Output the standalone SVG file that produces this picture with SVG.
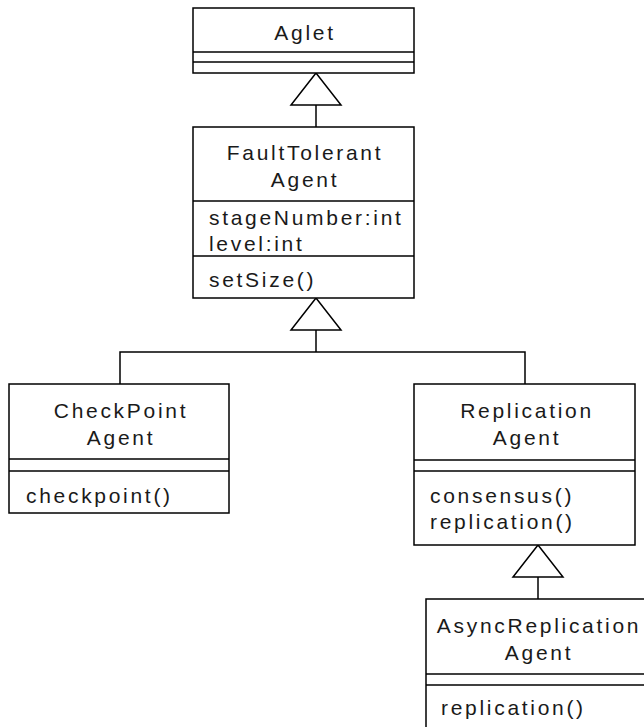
<svg xmlns="http://www.w3.org/2000/svg" width="644" height="727" viewBox="0 0 644 727">
<style>
.box{fill:#fff;stroke:#000;stroke-width:1.5}
.ln{stroke:#000;stroke-width:1.5;fill:none}
.tri{fill:#fff;stroke:#000;stroke-width:1.5}
text{font-family:"Liberation Sans",Arial,sans-serif;font-size:21px;letter-spacing:2.7px;fill:#1a1a1a}
.c{text-anchor:middle}
</style>
<rect width="644" height="727" fill="#fff"/>
<g id="connectors">
<line class="ln" x1="316" y1="105" x2="316" y2="127"/>
<polygon class="tri" points="316,73 291,105 341,105"/>
<polyline class="ln" points="120,384 120,352 525,352 525,384"/>
<line class="ln" x1="316" y1="330" x2="316" y2="352"/>
<polygon class="tri" points="316,298 291,330 341,330"/>
<line class="ln" x1="538" y1="577" x2="538" y2="599"/>
<polygon class="tri" points="538,545 513,577 563,577"/>
</g>
<g id="Aglet">
<rect class="box" x="193" y="8" width="221" height="65"/>
<line class="ln" x1="193" y1="52" x2="414" y2="52"/>
<line class="ln" x1="193" y1="62" x2="414" y2="62"/>
<text class="c" x="305" y="40">Aglet</text>
</g>
<g id="FaultTolerantAgent">
<rect class="box" x="193" y="127" width="221" height="171"/>
<line class="ln" x1="193" y1="201" x2="414" y2="201"/>
<line class="ln" x1="193" y1="256" x2="414" y2="256"/>
<text class="c" x="305" y="160">FaultTolerant</text>
<text class="c" x="305" y="187">Agent</text>
<text x="209" y="225">stageNumber:int</text>
<text x="209" y="251">level:int</text>
<text x="209" y="287">setSize()</text>
</g>
<g id="CheckPointAgent">
<rect class="box" x="9" y="384" width="220" height="129"/>
<line class="ln" x1="9" y1="459" x2="229" y2="459"/>
<line class="ln" x1="9" y1="471" x2="229" y2="471"/>
<text class="c" x="121" y="418">CheckPoint</text>
<text class="c" x="121" y="445">Agent</text>
<text x="26" y="503">checkpoint()</text>
</g>
<g id="ReplicationAgent">
<rect class="box" x="414" y="384" width="221" height="161"/>
<line class="ln" x1="414" y1="460" x2="635" y2="460"/>
<line class="ln" x1="414" y1="471" x2="635" y2="471"/>
<text class="c" x="527" y="418">Replication</text>
<text class="c" x="527" y="445">Agent</text>
<text x="430" y="503">consensus()</text>
<text x="430" y="529">replication()</text>
</g>
<g id="AsyncReplicationAgent">
<rect class="box" x="426" y="599" width="230" height="150"/>
<line class="ln" x1="426" y1="674" x2="656" y2="674"/>
<line class="ln" x1="426" y1="685" x2="656" y2="685"/>
<text class="c" x="539" y="633">AsyncReplication</text>
<text class="c" x="539" y="660">Agent</text>
<text x="441" y="715">replication()</text>
</g>
</svg>
